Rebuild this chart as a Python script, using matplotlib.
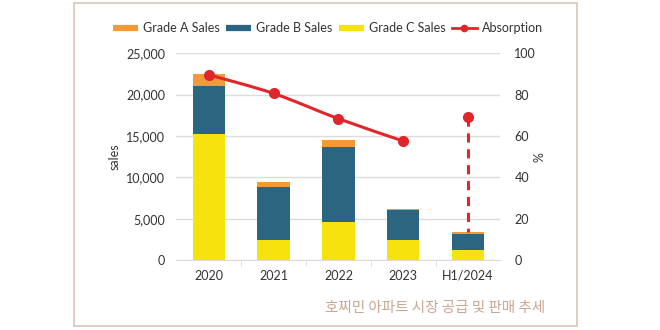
"""Ho Chi Minh City apartment supply/sales by grade with absorption rate."""

import matplotlib

matplotlib.use("Agg")
import matplotlib.pyplot as plt
from matplotlib.lines import Line2D
from matplotlib.patches import PathPatch, Rectangle
from matplotlib.path import Path
from matplotlib.ticker import FuncFormatter
import numpy as np

plt.rcParams["font.family"] = ["Lato", "DejaVu Sans"]

years = ["2020", "2021", "2022", "2023", "H1/2024"]
grade_c = [15200, 2400, 4550, 2400, 1250]
grade_b = [5800, 6450, 9150, 3600, 1930]
grade_a = [1450, 550, 750, 160, 165]
absorption = [89.5, 80.5, 68.3, 57.5, 69.2]

C_A = "#f29a38"
C_B = "#2b6580"
C_C = "#f6e20c"
C_LINE = "#e0262b"
GRID = "#dcdcdc"
TXT = "#333333"

fig = plt.figure(figsize=(6.6, 3.3), dpi=100)
ax = fig.add_axes([0.2674, 0.212, 0.4909, 0.627])
ax2 = ax.twinx()

x = np.arange(len(years))
w = 0.5
c = np.array(grade_c)
b = np.array(grade_b)
a = np.array(grade_a)
ax.bar(x, c, w, color=C_C, zorder=2)
ax.bar(x, b, w, bottom=c, color=C_B, zorder=2)
ax.bar(x, a, w, bottom=c + b, color=C_A, zorder=2)

ax.set_xlim(-0.5, len(years) - 0.5)
ax.set_ylim(0, 25000)
ax.set_yticks(np.arange(0, 25001, 5000))
ax.yaxis.set_major_formatter(FuncFormatter(lambda v, _: f"{int(v):,}"))
ax.grid(axis="y", color=GRID, lw=1, zorder=0)
ax.set_axisbelow(True)
for s in ["top", "right", "left"]:
    ax.spines[s].set_visible(False)
ax.spines["bottom"].set_color(GRID)
ax.set_xticks(x)
ax.set_xticklabels(years)
ax.set_xticks(np.arange(0.5, len(years) - 1, 1), minor=True)
ax.tick_params(axis="x", which="major", length=0, pad=7, labelsize=9, colors=TXT)
ax.tick_params(axis="x", which="minor", length=4, color=GRID)
ax.tick_params(axis="y", length=0, pad=8, labelsize=9, colors=TXT)
ax.set_ylabel("sales", fontsize=9, color=TXT, labelpad=4)

# absorption on the secondary axis
ax2.set_ylim(0, 100)
ax2.set_yticks(np.arange(0, 101, 20))
ax2.tick_params(axis="y", length=0, pad=10, labelsize=9, colors=TXT)
for s in ax2.spines.values():
    s.set_visible(False)
ax2.set_ylabel("%", fontsize=9, color=TXT, labelpad=-2)

# smooth curve through 2020-2023 (Catmull-Rom as cubic Bezier segments)
px = x[:4].astype(float)
py = np.array(absorption[:4])
pts = np.column_stack([px, py])
ext = np.vstack([pts[0], pts, pts[-1]])
verts = [tuple(pts[0])]
codes = [Path.MOVETO]
for i in range(1, len(ext) - 2):
    p0, p1, p2, p3 = ext[i - 1], ext[i], ext[i + 1], ext[i + 2]
    verts += [tuple(p1 + (p2 - p0) / 6), tuple(p2 - (p3 - p1) / 6), tuple(p2)]
    codes += [Path.CURVE4] * 3
ax2.add_patch(PathPatch(Path(verts, codes), fill=False, ec=C_LINE, lw=2.2,
                        zorder=3, capstyle="round"))
ax2.plot(px, py, "o", color=C_LINE, ms=7, zorder=4)

# H1/2024: drop line from absorption point to the bar top
top_2024 = (c + b + a)[4] / 25000 * 100
ax2.plot([x[4], x[4]], [absorption[4], top_2024], color=C_LINE, lw=2.2,
         ls=(0, (3, 2.2)), zorder=3)
ax2.plot([x[4]], [absorption[4]], "o", color=C_LINE, ms=7, zorder=4)

handles = [
    Line2D([], [], color=C_A, lw=4.5, solid_capstyle="butt"),
    Line2D([], [], color=C_B, lw=4.5, solid_capstyle="butt"),
    Line2D([], [], color=C_C, lw=4.5, solid_capstyle="butt"),
    Line2D([], [], color=C_LINE, lw=2, marker="o", ms=4.5),
]
labels = ["Grade A Sales", "Grade B Sales", "Grade C Sales", "Absorption"]
fig.legend(handles, labels, loc="center", bbox_to_anchor=(0.497, 0.915), ncol=4,
           frameon=False, fontsize=9, handlelength=2.0, handletextpad=0.4,
           columnspacing=0.5, labelcolor=TXT)

fig.text(0.826, 0.067, "호찌민 아파트 시장 공급 및 판매 추세", ha="right", va="center",
         fontsize=10.5, color="#c8a892", style="italic",
         family=["Noto Sans CJK KR", "DejaVu Sans"])

fig.patches.append(Rectangle((74 / 660, 1 - 326 / 330), (577 - 74) / 660, 323 / 330,
                             transform=fig.transFigure, fill=False, ec="#d9c5b5",
                             lw=1.2))

fig.savefig("out.png", dpi=100)
